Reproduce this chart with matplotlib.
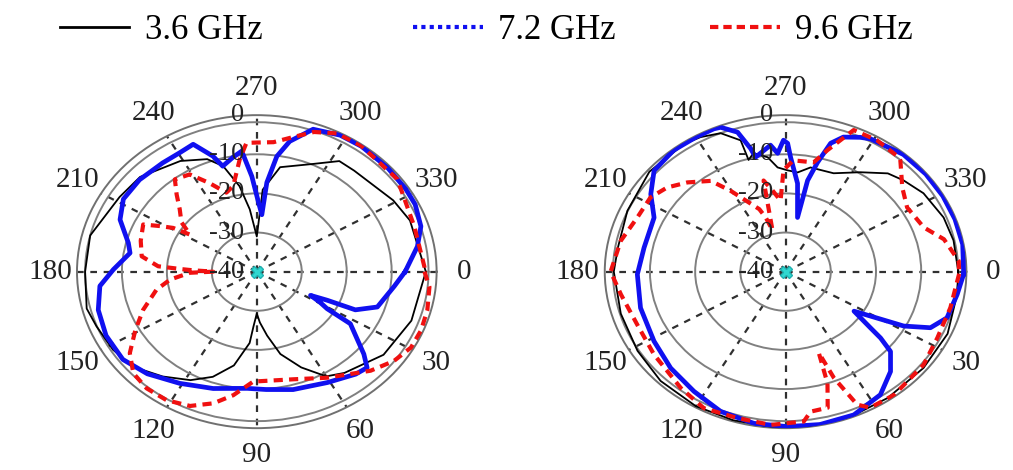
import numpy as np
import matplotlib.pyplot as plt
from matplotlib.lines import Line2D

plt.rcParams['font.family'] = ['Liberation Serif', 'DejaVu Serif']

# Angles in degrees (0 = right, clockwise), normalised gain in dB
# ---- left pattern ----
ang_black_a = [0, 20, 37, 53, 60, 68, 76, 82, 87, 90, 93, 95, 102, 110, 118, 128, 138.5, 148, 158.6,
               166, 180, 194, 212, 223, 239, 249, 254.5, 260, 264.4, 270, 273.6, 281, 294, 303, 310,
               329, 339, 360]
db_black_a = [-2.4, -3.4, -4.7, -7.6, -9.1, -13.6, -18.3, -23.5, -27, -29.3, -26, -21.7, -15.5, -11.4,
              -8.6, -6, -3.3, -2.3, -1.7, -1.0, -1.8, -1.8, -4, -4.5, -7, -9.2, -12, -17.8, -24, -31,
              -19, -12.8, -9.9, -6.3, -6.3, -4.6, -3.5, -2.4]

ang_blue_a = [0, 7, 18.6, 24, 25, 26.9, 29, 31.2, 32.6, 41.5, 45, 50, 61, 75, 86, 94, 108, 121, 133,
              143, 154, 164.5, 174, 181, 189.6, 194.4, 203.6, 212, 222, 233, 240.6, 246.5, 251.7,
              254.3, 259.7, 263.8, 267.4, 271, 274.4, 275.6, 278.6, 282.4, 289, 298, 306, 317.5,
              327.4, 334, 342.4, 349.8, 355, 360]
db_blue_a = [-7, -9.2, -11.7, -16, -22.7, -26.6, -24, -21.7, -15.3, -8.2, -5.3, -5.8, -7.6, -8.8, -9.8,
             -10.1, -8.6, -6.7, -4.3, -2.7, -2.7, -3.4, -4.9, -8.1, -11.4, -10.5, -6.8, -5, -4.9, -5.2,
             -5.1, -4.5, -8.9, -12, -10.3, -9, -15.6, -22, -25.4, -17.1, -10.2, -5.9, -1.5, -0.5, -0.4,
             -0.6, -0.7, -0.8, -1.7, -3.7, -5.6, -7]

ang_red_a = [0, 5.8, 14.6, 22.4, 29.5, 36.8, 45, 60, 73.4, 88.5, 91.6, 99.4, 106, 113.4, 121.4, 129.4,
             136.6, 143.6, 151, 158.9, 168.3, 174, 178.9, 180, 181.4, 182.3, 183.6, 188.7, 197, 205.5,
             208.4, 211, 212.5, 217, 222.9, 227.9, 232.3, 239, 245, 251.5, 256.5, 262.5, 266, 270,
             276.4, 283.4, 289.6, 296.9, 305.6, 322.9, 341.7, 358, 360]
db_red_a = [-2.7, -1.4, -0.8, -0.5, -0.6, -1.9, -4.2, -8.7, -11.3, -12, -11.9, -8, -5, -2.6, -1.5, -1.4,
            -2.2, -4.9, -9.1, -12.9, -17.2, -20.6, -25.1, -30.3, -25.8, -22.9, -18, -14.1, -13, -12,
            -15.5, -18.3, -22.4, -19, -16.6, -13.4, -10.2, -11, -15, -18.7, -17.5, -11, -7, -7, -6.7,
            -4.6, -2.1, -0.4, -0.3, -0.8, -3.1, -2.7, -2.7]

# ---- right pattern ----
ang_black_b = [0, 8.4, 23.9, 38.9, 55, 68, 82, 95, 107, 120, 134.7, 148.3, 163.6, 180, 189.4, 204,
               220.3, 235.4, 241.3, 247.9, 253.5, 254, 256.8, 262.3, 266.2, 271, 276, 281.7, 292.9,
               303, 312, 318.2, 326.7, 338.4, 347.9, 360]
db_black_b = [-1.8, -1.6, -0.8, -0.8, -0.6, -0.3, -0.2, -0.2, -0.3, -0.3, -0.7, -1.5, -2, -2, -2.4,
              -1.7, -0.5, -0.4, -0.8, -1.8, -5, -10.3, -8.9, -10.5, -13.3, -14.1, -14.5, -12.8, -12.7,
              -9.7, -6.2, -5, -3.5, -2.4, -2, -1.8]

ang_blue_b = [0.9, 8.7, 18.3, 24.1, 28, 33.7, 37.4, 38.9, 41.3, 47.7, 56.3, 67.6, 79, 89.5, 100.2,
              111.9, 123.5, 135.9, 148.6, 163.9, 178.8, 191.1, 205.4, 213.6, 221.6, 231.4, 240.4,
              246.5, 248.7, 253.4, 256.2, 257.2, 264.1, 266.7, 269.2, 270.8, 272.2, 276.7, 280.8,
              281.8, 284.2, 286.9, 290.4, 295.7, 299, 311, 321.2, 330.9, 340.3, 349.9, 360.9]
db_blue_b = [-0.6, -1.6, -2.4, -4.9, -10.4, -21.8, -16.4, -13, -9.1, -5.5, -2.2, -0.4, -0.2, -0.4,
             -0.6, -1.5, -3.3, -4.6, -5.9, -6.6, -7.2, -8.1, -7.8, -4.2, -1.1, -0.3, -0.3, -0.2, -0.4,
             -2.8, -7.6, -10, -7.5, -9.7, -6.4, -7.2, -10.8, -17.3, -25.9, -16.2, -11.2, -5.7, -3.3,
             -1.9, -1.2, -0.3, -0.2, -0.2, -0.2, -0.2, -0.6]

ang_red_b = [0.8, 14.2, 26.8, 37.9, 52.6, 61.7, 65, 68.5, 70.5, 72, 75, 81.2, 84, 94.8, 105.9, 117.4,
             127.9, 143.9, 157.6, 171, 180, 192.2, 202.9, 212.4, 219.4, 226.4, 234.5, 239.5, 250,
             252.4, 254.7, 258.2, 262, 266.5, 269, 273.5, 282.5, 286.6, 292.6, 301, 310.6, 311.8,
             320.2, 328.6, 339.7, 346.7, 355.9, 360.8]
db_red_b = [-1.6, -2.4, -2.4, -1.3, -0.4, -0.5, -2.5, -10.8, -18, -10, -4, -3.8, -1.5, -0.7, -1.1,
            -0.7, -2.3, -4, -4.5, -3.1, -1.3, -2.7, -4.4, -4.6, -6.1, -8.5, -11.5, -16, -23, -25.5,
            -29, -16.2, -19, -21.8, -14, -11.5, -11.4, -7.6, -0.8, -0.8, -1.5, -1.9, -6.4, -8.5, -7.4,
            -4, -1.6, -1.6]

labels = ['3.6 GHz', '7.2 GHz', '9.6 GHz']
theta_ticks = list(range(0, 360, 30))
r_labels = [0, -10, -20, -30, -40]
rings = [-30, -20, -10, -1.8]

c_black = '#000000'
c_blue = '#1010f0'
c_red = '#f01010'


def setup(ax):
    ax.set_aspect('auto')
    ax.set_theta_zero_location('E')
    ax.set_theta_direction(-1)
    ax.set_thetagrids(theta_ticks, [str(t) for t in theta_ticks], fontsize=21, color='#222222')
    ax.set_rgrids(rings, labels=[''] * len(rings))
    ax.set_rlim(-40, 0)
    ax.xaxis.grid(True, color='#303030', ls=(0, (3, 3)), lw=1.6)
    ax.yaxis.grid(True, color='#808080', ls='-', lw=1.4)
    ax.tick_params(axis='x', pad=9)
    ax.spines['polar'].set_color('#707070')
    ax.spines['polar'].set_linewidth(1.4)
    for v in r_labels:
        ax.annotate(str(v), xy=(np.deg2rad(270), v), xytext=(-9, 0), textcoords='offset points',
                    ha='right', va='center', fontsize=19, color='#222222', zorder=5)
    ax.plot([0], [-40], marker='X', color='#30d8d0', ms=9, mec='#20b0b0', zorder=6)


def draw(ax, ab, db_k, aw, db_w, ar, db_r):
    ax.plot(np.deg2rad(ab), db_k, color=c_black, lw=1.3, zorder=3)
    ax.plot(np.deg2rad(aw), db_w, color=c_blue, lw=3.4, zorder=3)
    ax.plot(np.deg2rad(ar), db_r, color=c_red, lw=3, ls=(0, (2.2, 1.5)), zorder=4)


fig = plt.figure(figsize=(10.13, 4.70), dpi=100)
ax1 = fig.add_axes([0.076, 0.089, 0.355, 0.666], projection='polar')
ax2 = fig.add_axes([0.597, 0.089, 0.357, 0.666], projection='polar')

draw(ax1, ang_black_a, db_black_a, ang_blue_a, db_blue_a, ang_red_a, db_red_a)
draw(ax2, ang_black_b, db_black_b, ang_blue_b, db_blue_b, ang_red_b, db_red_b)
setup(ax1)
setup(ax2)

handles = [Line2D([], [], color=c_black, lw=2),
           Line2D([], [], color=c_blue, lw=3, ls=(0, (1, 1))),
           Line2D([], [], color=c_red, lw=3, ls=(0, (2, 1.2)))]
# one legend entry per column, placed where the reference has them
legend_x = [0.059, 0.408, 0.701]
for h, lab, x in zip(handles, labels, legend_x):
    fig.legend([h], [lab], loc='upper left', bbox_to_anchor=(x, 0.97), frameon=False,
               fontsize=25, handlelength=2.0, handletextpad=0.45, borderpad=0, borderaxespad=0)

fig.savefig('out.png', dpi=100)
